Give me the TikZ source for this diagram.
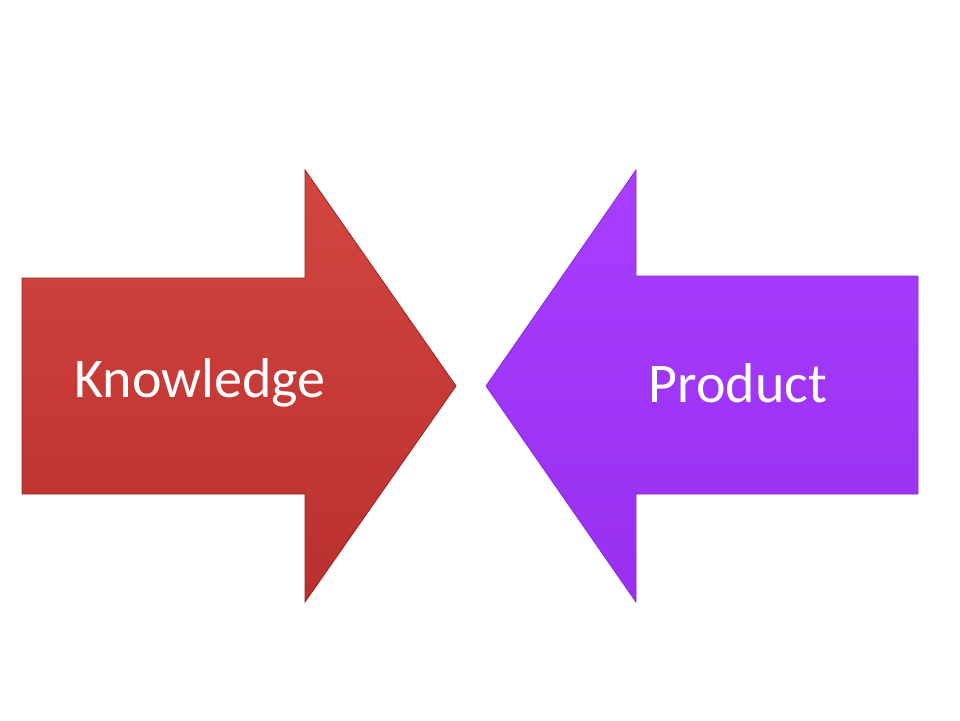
\documentclass[tikz,border=0pt]{standalone}
\usepackage{fontspec}
\setmainfont{Carlito}
\definecolor{redtop}{RGB}{212,70,64}
\definecolor{redbot}{RGB}{184,48,46}
\definecolor{redline}{RGB}{150,35,33}
\definecolor{purtop}{RGB}{168,62,255}
\definecolor{purbot}{RGB}{152,48,240}
\definecolor{purline}{RGB}{140,40,220}
\begin{document}
\begin{tikzpicture}[x=1pt,y=-1pt,
  redarrow/.style={top color=redtop, bottom color=redbot, draw=redline, line width=0.8pt, line join=miter},
  purparrow/.style={top color=purtop, bottom color=purbot, draw=purline, line width=0.8pt, line join=miter},
  lbl/.style={text=white, font=\fontsize{56}{60}\selectfont}]
\useasboundingbox (0,0) rectangle (960,720);
\fill[white] (0,0) rectangle (960,720);
\draw[redarrow] (22,278) -- (305,278) -- (305,170) -- (456,386) -- (305,602) -- (305,494) -- (22,494) -- cycle;
\draw[purparrow] (918,276) -- (636,276) -- (636,170) -- (486,386) -- (636,602) -- (636,494) -- (918,494) -- cycle;
\node[lbl] (k) at (200,383) {Knowledge};
\node[lbl] (p) at (738,383) {Product};
\end{tikzpicture}
\end{document}
